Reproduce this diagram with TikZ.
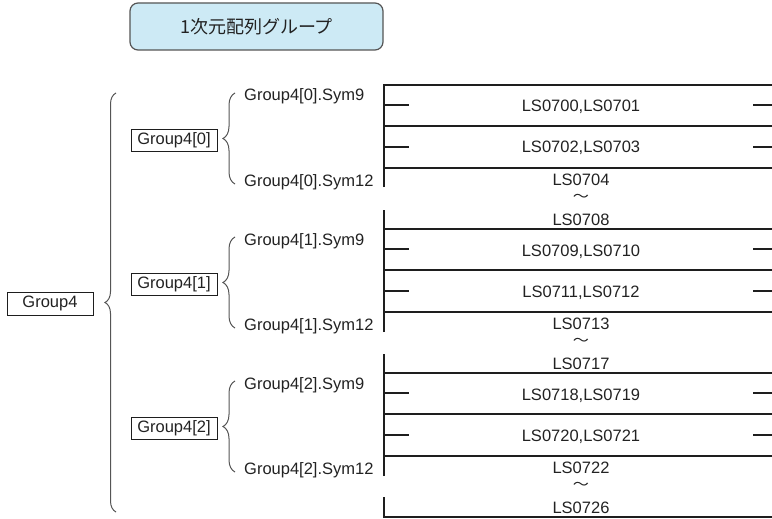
\documentclass[tikz,border=0pt]{standalone}
\usepackage{fontspec}
\setmainfont{Liberation Sans}
\newfontfamily\jpfont{Noto Sans CJK JP}
\usetikzlibrary{decorations.pathreplacing}
\definecolor{txtc}{HTML}{222222}
\definecolor{linec}{HTML}{1E1E1E}
\definecolor{bracec}{HTML}{555555}
\definecolor{titlefill}{HTML}{CDEAF5}
\definecolor{titledraw}{HTML}{555555}
\tikzset{
  lfont/.style={font=\fontsize{16.5}{18}\selectfont, text=txtc},
  lbl/.style={lfont, inner sep=0pt, anchor=base west},
  lsl/.style={lfont, inner sep=0pt, anchor=base},
  grp/.style={lfont, draw=linec, line width=0.9pt, minimum width=86pt, minimum height=22pt, inner sep=0pt},
  rail/.style={line width=2pt, draw=linec},
  contact/.style={line width=1.6pt, draw=linec},
  brc/.style={decorate, decoration={brace, amplitude=#1}, draw=bracec, line width=1pt},
  tildemark/.style={inner sep=0pt, text=txtc, font=\jpfont\fontsize{14}{14}\selectfont, xscale=1.15},
  titlebox/.style={draw=titledraw, line width=1.2pt, fill=titlefill, rounded corners=8pt,
    minimum width=253pt, minimum height=47pt, inner sep=0pt, text=txtc,
    font=\jpfont\fontsize{18}{20}\selectfont}
}
\begin{document}
\begin{tikzpicture}[x=1pt,y=-1pt]
\useasboundingbox (0,0) rectangle (772,519);

% title
\node[titlebox] (title) at (256.5,26.5) {1次元配列グループ};

% top group
\node[grp, minimum height=23pt] (g) at (50,303.5) {Group4};
\coordinate (gbB) at (116,512);
\coordinate (gbT) at (116,93);
\draw[brc=11pt] (gbB) -- (gbT);

\foreach \g/\ra/\rb/\rc/\rd in {0/{LS0700,LS0701}/{LS0702,LS0703}/LS0704/LS0708,
                                  1/{LS0709,LS0710}/{LS0711,LS0712}/LS0713/LS0717,
                                  2/{LS0718,LS0719}/{LS0720,LS0721}/LS0722/LS0726} {
  \pgfmathsetmacro\o{144*\g}
  % sub group box and brace
  \node[grp] (g\g) at (174,140+\o) {Group4[\g]};
  \coordinate (bB\g) at (235,184+\o);
  \coordinate (bT\g) at (235,93+\o);
  \draw[brc=12pt] (bB\g) -- (bT\g);
  \node[lbl] (s9\g) at (244,101+\o) {Group4[\g].Sym9};
  \node[lbl] (s12\g) at (244,186+\o) {Group4[\g].Sym12};
  % rungs
  \draw[rail] (384,126+\o) -- (772,126+\o);
  \draw[rail] (384,168+\o) -- (772,168+\o);
  % contacts
  \draw[contact] (384,105+\o) -- (409,105+\o);
  \draw[contact] (753,105+\o) -- (772,105+\o);
  \draw[contact] (384,147+\o) -- (409,147+\o);
  \draw[contact] (753,147+\o) -- (772,147+\o);
  % texts
  \node[lsl] (la\g) at (581,112+\o) {\ra};
  \node[lsl] (lb\g) at (581,153+\o) {\rb};
  \node[lsl] (lc\g) at (581,185+\o) {\rc};
  \node[tildemark] (tl\g) at (581,197.5+\o) {〜};
  \node[lsl] (ld\g) at (581,225+\o) {\rd};
}

% rails
\draw[rail] (384,187) -- (384,85) -- (772,85);
\draw[rail] (384,332) -- (384,210);
\draw[rail] (384,229) -- (772,229);
\draw[rail] (384,476) -- (384,354);
\draw[rail] (384,373) -- (772,373);
\draw[rail] (384,497) -- (384,517) -- (772,517);
\end{tikzpicture}
\end{document}
